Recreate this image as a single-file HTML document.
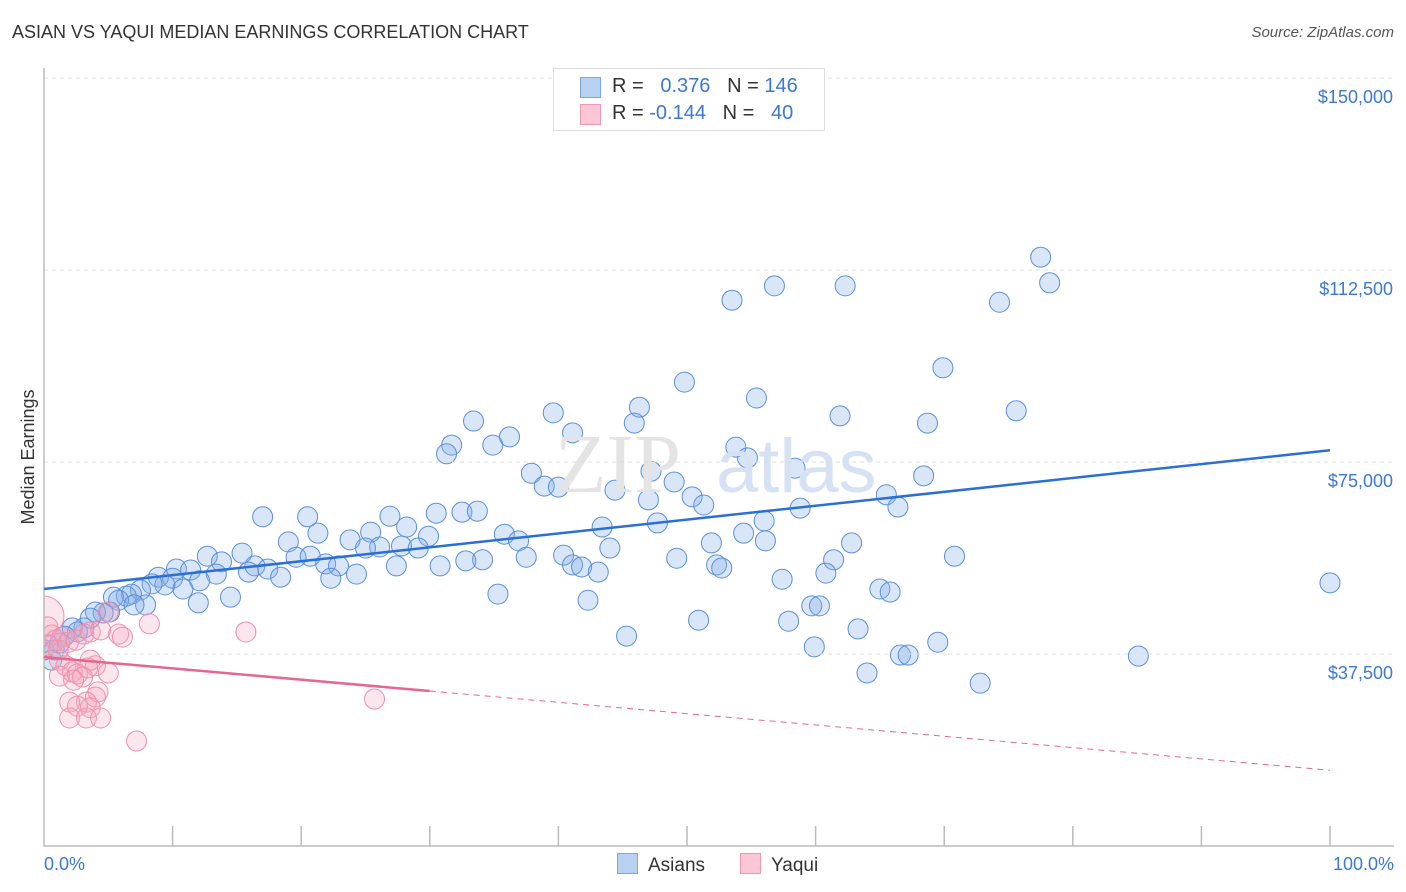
<!DOCTYPE html>
<html><head><meta charset="utf-8"><style>
body{margin:0;background:#fff;font-family:"Liberation Sans",sans-serif}
#wrap{position:relative;width:1406px;height:892px;overflow:hidden}
.t{position:absolute;white-space:nowrap}
</style></head><body>
<div id="wrap">
<div class="t" style="left:12px;top:22px;font-size:18px;color:#333">ASIAN VS YAQUI MEDIAN EARNINGS CORRELATION CHART</div>
<div class="t" style="right:12px;top:24px;font-size:15px;color:#555;font-style:italic">Source: ZipAtlas.com</div>
<svg id="svg" width="1406" height="892" style="position:absolute;left:0;top:0"><defs><clipPath id="pc"><rect x="44" y="60" width="1360" height="786"/></clipPath></defs><g id="marks" clip-path="url(#pc)"></g></svg>
</div>
<script>
const yTicks=[150000,112500,75000,37500];
const yTickLabels=["$150,000","$112,500","$75,000","$37,500"];
const xTickLabels=["0.0%","100.0%"];
const asianX=[77.5,78.2,56.8,62.3,53.5,74.3,69.9,49.8,33.4,39.6,46.3,55.4,61.9,75.6,68.7,45.9,31.7,31.3,34.9,36.2,41.1,53.8,54.7,58.4,47.2,68.4,37.9,38.9,40.0,49.0,44.4,50.4,47.0,51.3,65.5,66.4,58.8,30.5,32.5,33.7,26.9,25.4,28.2,29.9,17.0,20.5,21.3,23.8,19.0,19.6,20.7,26.1,25.0,27.8,29.1,35.8,36.9,43.4,47.7,56.0,54.4,51.9,56.1,62.8,44.0,37.5,40.4,41.1,41.8,43.1,34.1,30.8,32.8,27.4,21.9,22.9,24.3,22.3,49.2,52.3,52.7,61.4,70.8,60.8,57.4,65.0,65.8,35.3,42.3,59.7,60.3,50.9,57.9,63.3,45.3,69.5,59.9,66.6,67.2,85.1,64.0,72.8,100,12.7,15.4,13.8,16.4,17.4,18.4,13.4,15.9,10.3,11.4,8.9,10.0,12.1,10.8,9.4,8.4,7.5,6.8,7.9,6.4,5.4,5.8,5.1,4.6,4.0,3.6,3.1,2.6,2.2,1.6,1.2,0.8,0.6,12.0,14.5,7.0,0.0];
const asianY=[115000,110000,109400,109400,106600,106200,93400,90600,83000,84600,85700,87500,84000,85000,82600,82600,78300,76600,78300,79900,80700,77900,75800,73800,73200,72300,72800,70300,70100,71100,69500,68200,67600,66600,68600,66200,66000,65000,65200,65400,64400,61300,62300,60500,64300,64300,61100,59800,59400,56400,56600,58400,58200,58600,58200,60900,59600,62300,63100,63500,61100,59200,59600,59200,58200,56400,56800,54900,54500,53500,55900,54700,55700,54700,55100,54700,53100,52300,56200,54900,54300,55900,56600,53300,52100,50200,49600,49200,48000,46900,46900,44100,43900,42400,41000,39800,38900,37300,37300,37100,33800,31800,51400,56600,57200,55500,54700,54100,52500,53100,53500,54100,53900,52500,52300,51800,50200,51000,51200,50000,49200,47100,48800,48600,48000,45700,45500,45700,44500,42600,41800,42600,41000,39600,38300,36300,47500,48600,47100,38300];
const yaquiX=[0.0,0.3,0.6,0.9,1.4,1.9,2.5,3.1,3.6,4.4,5.0,5.8,6.1,8.2,15.7,1.2,1.7,2.2,2.6,3.4,4.0,5.0,3.0,3.6,4.2,4.0,3.3,2.0,2.6,3.6,2.0,3.3,4.4,7.2,25.7,1.2,2.3,1.1,0.3];
const yaquiY=[44900,42800,41200,40200,40800,39800,40200,41400,41800,42200,45700,41400,40800,43400,41800,36300,35200,34000,33600,34800,35200,33800,33000,36300,30100,29100,28100,28100,27300,27000,25000,25000,25000,20500,28700,33200,32400,38300,39300];
const asianTrend=[50200,77300];
const yaquiTrend=[36900,14800];
const L=44,R=1330,Y0=846,PX=(846-654)/37500;
const xs=v=>L+(R-L)*v/100, ys=v=>Y0-v*PX;
const svg=document.getElementById('svg');const NS='http://www.w3.org/2000/svg';
const marks=document.getElementById('marks');
function mk(t,a,p){const e=document.createElementNS(NS,t);for(const k in a)e.setAttribute(k,a[k]);(p||svg).appendChild(e);return e;}
const wm=mk('text',{x:555,y:492,'font-size':84,fill:'#e4e4e4','font-family':'Liberation Serif, serif'});wm.textContent='ZIP';


const wm2=mk('text',{x:716,y:492,'font-size':76,fill:'#d6e2f3','font-family':'Liberation Sans, sans-serif'});wm2.textContent='atlas';


yTicks.forEach((v,i)=>{
 const g=mk('line',{x1:L,x2:1394,y1:ys(v),y2:ys(v),stroke:'#ddd','stroke-dasharray':'4,4'});
 
 
 const t=mk('text',{x:1393,y:ys(v)+25,'text-anchor':'end','font-size':18,fill:'#3a78d8'});t.textContent=yTickLabels[i];
 
 
});
asianX.forEach((x,i)=>{const c=mk('circle',{cx:xs(x),cy:ys(asianY[i]),r:10,fill:'rgba(130,172,232,0.3)',stroke:'#5b8fd9','stroke-width':1},marks);
 
 });
yaquiX.forEach((x,i)=>{const c=mk('circle',{cx:xs(x),cy:ys(yaquiY[i]),r:i==0?20:10,fill:'rgba(245,165,190,0.28)',stroke:'#ee8fab','stroke-width':1},marks);
 
 });
const ax=mk('path',{d:`M${L} 68V${Y0}H1394`,stroke:'#bbb','stroke-width':1.5,fill:'none'});


for(let i=1;i<=10;i++){const tk=mk('line',{x1:xs(i*10),x2:xs(i*10),y1:826,y2:Y0,stroke:'#bbb','stroke-width':1.5});
 
 }
[[0,'start',44],[100,'end',1394]].forEach((a,i)=>{const t=mk('text',{x:a[2],y:870,'text-anchor':a[1],'font-size':18,fill:'#3a78d8'});t.textContent=xTickLabels[i];
 
 });
const yt=mk('text',{x:34,y:457,'text-anchor':'middle','font-size':18,fill:'#333',transform:'rotate(-90 34 457)'});yt.textContent='Median Earnings';


const bl=mk('line',{x1:xs(0),y1:ys(asianTrend[0]),x2:xs(100),y2:ys(asianTrend[1]),stroke:'#2a6fd6','stroke-width':2.5});


const yv=p=>yaquiTrend[0]+(yaquiTrend[1]-yaquiTrend[0])*p/100;
const pl=mk('line',{x1:xs(0),y1:ys(yv(0)),x2:xs(30),y2:ys(yv(30)),stroke:'#e8658f','stroke-width':2.5});


const pd=mk('line',{x1:xs(30),y1:ys(yv(30)),x2:xs(100),y2:ys(yv(100)),stroke:'#e8658f','stroke-width':1,'stroke-dasharray':'6,5'});


</script>
<div class="t" style="left:553px;top:68px;width:270px;height:61px;border:1px solid #ddd;background:#fff;font-size:20px;color:#333">
 <div style="position:absolute;left:26px;top:8px;width:19px;height:19px;background:#b8d0f2;border:1px solid #7aa6e6"></div>
 <div style="position:absolute;left:58px;top:6px">R = <span style="color:#3a78d8">&nbsp;&nbsp;0.376</span>&nbsp;&nbsp;&nbsp;N = <span style="color:#3a78d8">146</span></div>
 <div style="position:absolute;left:26px;top:35px;width:19px;height:19px;background:#fbc6d5;border:1px solid #ee97b0"></div>
 <div style="position:absolute;left:58px;top:33px">R = <span style="color:#3a78d8">-0.144</span>&nbsp;&nbsp;&nbsp;N = <span style="color:#3a78d8">&nbsp;&nbsp;40</span></div>
</div>
<div class="t" style="left:617px;top:853px;font-size:19px;color:#333"><span style="display:inline-block;width:19px;height:19px;background:#b8d0f2;border:1px solid #7aa6e6;vertical-align:-3px;margin-right:10px"></span>Asians</div>
<div class="t" style="left:740px;top:853px;font-size:19px;color:#333"><span style="display:inline-block;width:19px;height:19px;background:#fbc6d5;border:1px solid #ee97b0;vertical-align:-3px;margin-right:10px"></span>Yaqui</div>
</body></html>
